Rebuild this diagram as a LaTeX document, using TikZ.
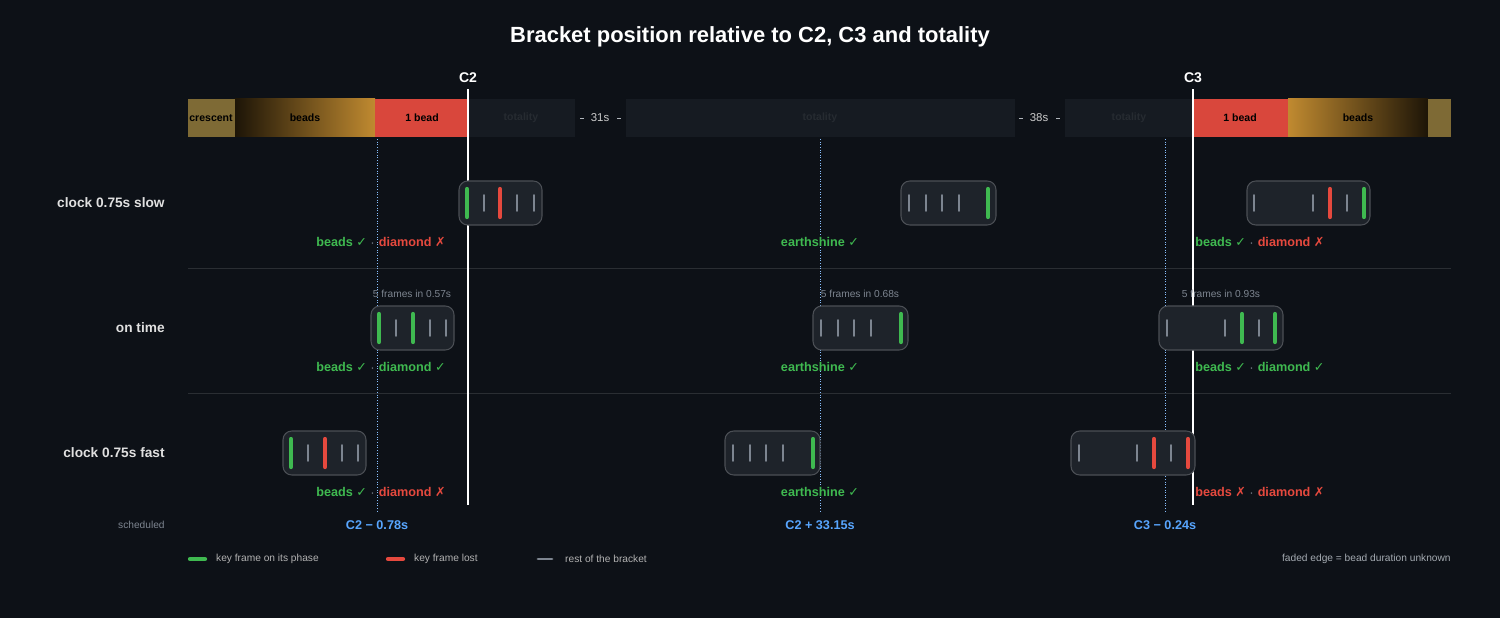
\documentclass[tikz,border=0pt]{standalone}
\usepackage{fontspec}
\setmainfont{Liberation Sans}
\newfontfamily\symf{DejaVu Sans}
\definecolor{bgc}{HTML}{0D1117}
\definecolor{barc}{HTML}{161B22}
\definecolor{boxc}{HTML}{1E232A}
\definecolor{okc}{HTML}{3FB950}
\definecolor{badc}{HTML}{E5493E}
\definecolor{grayc}{HTML}{7D8590}
\definecolor{bluec}{HTML}{58A6FF}
\definecolor{goldc}{HTML}{7E6A35}
\definecolor{orc}{HTML}{C08A30}
\definecolor{redbar}{HTML}{D9473C}
\tikzset{
  phase/.style={font=\bfseries\fontsize{6}{7}\selectfont, text=black},
  rowlab/.style={font=\bfseries\fontsize{7.8}{9}\selectfont, text=white!88!black, anchor=east, inner sep=0pt},
  capt/.style={font=\bfseries\fontsize{7.2}{8}\selectfont, inner sep=0pt},
  small/.style={font=\fontsize{5.8}{7}\selectfont, text=grayc},
  brk/.style={draw=white!20!boxc, fill=boxc, rounded corners=5pt, line width=0.6pt},
  tG/.style={okc, line width=2.4pt, line cap=round},
  tR/.style={badc, line width=2.4pt, line cap=round},
  tK/.style={grayc, line width=1.1pt, line cap=round},
}
\newcommand{\chk}{{\symf ✓}}
\newcommand{\crs}{{\symf ✗}}
\newcommand{\sep}{\textcolor{grayc}{\fontsize{5}{6}\selectfont\enspace·\enspace}}
\begin{document}
\begin{tikzpicture}[x=0.02cm, y=-0.02cm]
\fill[bgc] (0,0) rectangle (1500,618);
\node[font=\bfseries\fontsize{12.5}{14}\selectfont, text=white] (title) at (750,37) {Bracket position relative to C2, C3 and totality};

% timeline bar
\fill[goldc] (188,99) rectangle (235,137);
\shade[left color=black!85!orc, right color=orc] (235,99) rectangle (375,137);
\fill[redbar] (375,99) rectangle (468,137);
\fill[barc] (468,99) rectangle (575,137);
\fill[barc] (626,99) rectangle (1015,137);
\fill[barc] (1065,99) rectangle (1193,137);
\fill[redbar] (1193,99) rectangle (1288,137);
\shade[left color=orc, right color=black!85!orc] (1288,99) rectangle (1428,137);
\fill[goldc] (1428,99) rectangle (1451,137);
\node[phase] (cres) at (211,118) {crescent};
\node[phase] (bdl) at (305,118) {beads};
\node[phase] (obl) at (422,118) {1 bead};
\node[phase, text=white!7!barc] (tot1) at (521,118) {totality};
\node[phase, text=white!7!barc] (tot2) at (820,118) {totality};
\node[phase, text=white!7!barc] (tot3) at (1129,118) {totality};
\node[phase] (obr) at (1240,118) {1 bead};
\node[phase] (bdr) at (1358,118) {beads};
\node[phase, font=\fontsize{6.5}{7}\selectfont, text=white!80!black] (gap1) at (600,118) {31s};
\node[phase, font=\fontsize{6.5}{7}\selectfont, text=white!80!black] (gap2) at (1039,118) {38s};
\draw[grayc!60] (580,118) -- (584,118) (617,118) -- (621,118)
  (1019,118) -- (1023,118) (1056,118) -- (1060,118);

% row separators
\draw[white!12!bgc] (188,268) -- (1451,268) (188,393) -- (1451,393);

% scheduled lines
\foreach \x in {377,820,1165}
  \draw[bluec!70, densely dotted, line width=0.5pt] (\x,139) -- (\x,512);

% contacts
\node[font=\bfseries\fontsize{8}{9}\selectfont, text=white] (c2) at (468,78) {C2};
\node[font=\bfseries\fontsize{8}{9}\selectfont, text=white] (c3) at (1193,78) {C3};
\draw[white, line width=1.2pt] (c2.south) -- (468,505);
\draw[white, line width=1.2pt] (c3.south) -- (1193,505);

% row labels
\node[rowlab] (slow) at (165,203) {clock 0.75s slow};
\node[rowlab] (ontime) at (165,328) {on time};
\node[rowlab] (fast) at (165,453) {clock 0.75s fast};
\node[small, anchor=east, inner sep=0pt] (sched) at (165,525) {scheduled};

% brackets
\foreach \xa/\xb/\y/\ticks in {
  459/542/203/{467/G,484/K,500/R,517/K,534/K},
  901/996/203/{909/K,926/K,942/K,959/K,988/G},
  1247/1370/203/{1254/K,1313/K,1330/R,1347/K,1364/G},
  371/454/328/{379/G,396/K,413/G,430/K,446/K},
  813/908/328/{821/K,838/K,854/K,871/K,901/G},
  1159/1283/328/{1167/K,1225/K,1242/G,1259/K,1275/G},
  283/366/453/{291/G,308/K,325/R,342/K,358/K},
  725/820/453/{733/K,750/K,766/K,783/K,813/G},
  1071/1195/453/{1079/K,1137/K,1154/R,1171/K,1188/R}}{
  \draw[brk] (\xa,\y-22) rectangle (\xb,\y+22);
  \foreach \t/\k in \ticks {
    \if\k K \draw[tK] (\t,\y-8) -- (\t,\y+8);
    \else \draw[t\k] (\t,\y-14) -- (\t,\y+14); \fi
  }
}
\node[small] (f1) at (412,294) {5 frames in 0.57s};
\node[small] (f2) at (860,294) {5 frames in 0.68s};
\node[small] (f3) at (1221,294) {5 frames in 0.93s};

% verdicts
\node[capt] (v1) at (381,242) {\textcolor{okc}{beads \chk}\sep\textcolor{badc}{diamond \crs}};
\node[capt, text=okc] (v2) at (820,242) {earthshine \chk};
\node[capt, anchor=west] (v3) at (1195,242) {\textcolor{okc}{beads \chk}\sep\textcolor{badc}{diamond \crs}};
\node[capt] (w1) at (381,367) {\textcolor{okc}{beads \chk}\sep\textcolor{okc}{diamond \chk}};
\node[capt, text=okc] (w2) at (820,367) {earthshine \chk};
\node[capt, anchor=west] (w3) at (1195,367) {\textcolor{okc}{beads \chk}\sep\textcolor{okc}{diamond \chk}};
\node[capt] (x1) at (381,492) {\textcolor{okc}{beads \chk}\sep\textcolor{badc}{diamond \crs}};
\node[capt, text=okc] (x2) at (820,492) {earthshine \chk};
\node[capt, anchor=west] (x3) at (1195,492) {\textcolor{badc}{beads \crs}\sep\textcolor{badc}{diamond \crs}};

% scheduled offsets
\node[capt, text=bluec] (s1) at (377,525) {C2 − 0.78s};
\node[capt, text=bluec] (s2) at (820,525) {C2 + 33.15s};
\node[capt, text=bluec] (s3) at (1165,525) {C3 − 0.24s};

% legend
\draw[okc, line width=2.4pt, line cap=round] (190,559) -- (205,559);
\node[small, anchor=west, text=white!70!black] (lg1) at (210,559) {key frame on its phase};
\draw[badc, line width=2.4pt, line cap=round] (388,559) -- (403,559);
\node[small, anchor=west, text=white!70!black] (lg2) at (408,559) {key frame lost};
\draw[grayc, line width=1.6pt, line cap=round] (538,559) -- (552,559);
\node[small, anchor=west, text=white!70!black] (lg3) at (559,559) {rest of the bracket};
\node[small, anchor=east, inner sep=0pt, text=grayc!70] (lg4) at (1451,559) {faded edge = bead duration unknown};
\end{tikzpicture}
\end{document}
